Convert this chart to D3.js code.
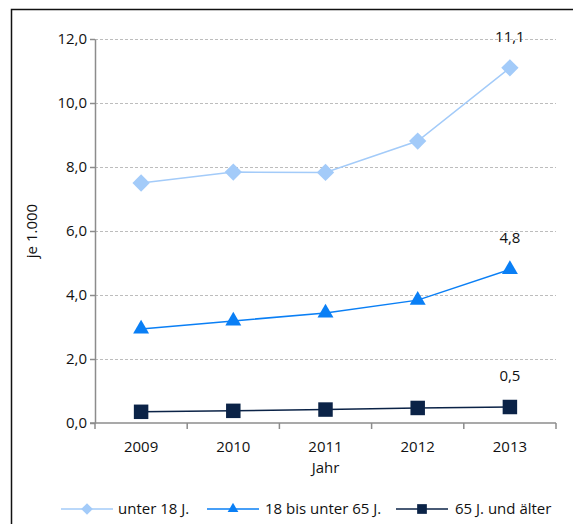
<!DOCTYPE html>
<html>
<head>
<meta charset="utf-8">
<script src="https://cdn.jsdelivr.net/npm/d3@7/dist/d3.min.js"></script>
<style>
  html, body { margin: 0; padding: 0; background: #fff; }
  svg { display: block; font-family: "Open Sans", sans-serif; }
</style>
</head>
<body>
<svg id="chart" width="573" height="524"></svg>
<script>
const years = ["2009", "2010", "2011", "2012", "2013"];
const unter18 = [7.5, 7.84, 7.83, 8.81, 11.1];
const mittel = [2.94, 3.19, 3.44, 3.84, 4.8];
const senioren = [0.35, 0.38, 0.42, 0.47, 0.5];
const seriesNames = ["unter 18 J.", "18 bis unter 65 J.", "65 J. und älter"];
const yTicks = [0, 2, 4, 6, 8, 10, 12];

(function () {
const FS = 15;
const series = [
  { name: seriesNames[0], values: unter18, color: "#a3cbf9", symbol: d3.symbolSquare, size: 150, rot: 45 },
  { name: seriesNames[1], values: mittel, color: "#0a7ff5", symbol: d3.symbolTriangle, size: 110, rot: 0 },
  { name: seriesNames[2], values: senioren, color: "#0b2347", symbol: d3.symbolSquare, size: 210, rot: 0 }
];

const svg = d3.select("#chart");
const fmt = v => d3.format(".1f")(v).replace(".", ",");

// outer frame
svg.append("rect")
  .attr("x", 11.5).attr("y", 9.5)
  .attr("width", 600).attr("height", 600)
  .attr("fill", "none").attr("stroke", "#111").attr("stroke-width", 1.5);

const mLeft = 95, mRight = 556, mTop = 39, mBottom = 423;
const x = d3.scaleBand().domain(years).range([mLeft, mRight]);
const y = d3.scaleLinear().domain([0, 12]).range([mBottom, mTop]);

// horizontal gridlines
svg.append("g").selectAll("line").data(yTicks.filter(t => t > 0)).join("line")
  .attr("x1", mLeft).attr("x2", mRight)
  .attr("y1", d => y(d) + 0.5).attr("y2", d => y(d) + 0.5)
  .attr("stroke", "#bdbdbd").attr("stroke-dasharray", "3,2").attr("stroke-width", 1);

// y axis
const yAxis = svg.append("g").attr("transform", `translate(${mLeft},0)`)
  .call(d3.axisLeft(y).tickValues(yTicks).tickFormat(fmt).tickSize(5).tickSizeOuter(0));
yAxis.select(".domain").attr("stroke", "#8c8c8c").attr("stroke-width", 1.5);
yAxis.selectAll(".tick line").attr("stroke", "#8c8c8c").attr("stroke-width", 1.5);
yAxis.selectAll(".tick text").attr("font-size", FS).attr("fill", "#111")
  .attr("font-family", "Open Sans").attr("x", -8);

// x axis with ticks between categories
const xAxis = svg.append("g").attr("transform", `translate(0,${mBottom})`);
xAxis.append("line").attr("x1", mLeft - 5).attr("x2", mRight)
  .attr("stroke", "#8c8c8c").attr("stroke-width", 1.5);
const bounds = years.map(d => x(d)).concat([mRight]);
xAxis.selectAll("line.tk").data(bounds).join("line").attr("class", "tk")
  .attr("x1", d => d).attr("x2", d => d).attr("y1", 0).attr("y2", 6)
  .attr("stroke", "#8c8c8c").attr("stroke-width", 1.5);
xAxis.selectAll("text").data(years).join("text")
  .attr("x", d => x(d) + x.bandwidth() / 2).attr("y", 29)
  .attr("text-anchor", "middle").attr("font-size", FS).attr("fill", "#111")
  .text(d => d);

// axis titles
svg.append("text").attr("x", x("2011") + x.bandwidth() / 2).attr("y", 473)
  .attr("text-anchor", "middle").attr("font-size", FS).attr("fill", "#111").text("Jahr");
svg.append("text").attr("transform", `translate(37,${y(6)}) rotate(-90)`)
  .attr("text-anchor", "middle").attr("font-size", FS).attr("fill", "#111").text("je 1.000");

// series lines and markers
const cx = d => x(d) + x.bandwidth() / 2;
series.forEach(s => {
  const pts = years.map((yr, i) => [cx(yr), y(s.values[i])]);
  svg.append("path").attr("d", d3.line()(pts))
    .attr("fill", "none").attr("stroke", s.color).attr("stroke-width", 1.5);
  svg.append("g").selectAll("path").data(pts).join("path")
    .attr("d", d3.symbol().type(s.symbol).size(s.size))
    .attr("transform", d => `translate(${d[0]},${d[1]}) rotate(${s.rot})`)
    .attr("fill", s.color);
  // value label for the last year
  const last = s.values.length - 1;
  svg.append("text").attr("x", cx(years[last])).attr("y", y(s.values[last]) - 26)
    .attr("text-anchor", "middle").attr("font-size", FS).attr("fill", "#111")
    .text(fmt(s.values[last]));
});

// legend
const legendItems = [
  { x: 61, len: 52, tx: 118 },
  { x: 207, len: 52, tx: 265 },
  { x: 396, len: 52, tx: 455 }
];
series.forEach((s, i) => {
  const li = legendItems[i];
  const g = svg.append("g").attr("transform", `translate(${li.x},509)`);
  g.append("line").attr("x1", 0).attr("x2", li.len).attr("stroke", s.color).attr("stroke-width", 1.5);
  g.append("path").attr("d", d3.symbol().type(s.symbol).size(s.size * 0.45))
    .attr("transform", `translate(${li.len / 2},0) rotate(${s.rot})`).attr("fill", s.color);
  svg.append("text").attr("x", li.tx).attr("y", 514)
    .attr("font-size", FS).attr("fill", "#111").text(s.name);
});
})();
</script>
</body>
</html>
